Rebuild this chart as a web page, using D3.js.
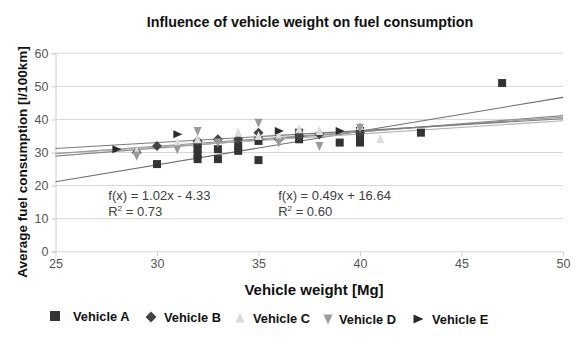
<!DOCTYPE html>
<html><head><meta charset="utf-8">
<script src="https://cdn.jsdelivr.net/npm/d3@7"></script>
<style>body{margin:0;background:#fff}svg{display:block}text{font-family:"Liberation Sans",Arial,sans-serif}</style>
</head><body>
<svg id="c" width="587" height="353"></svg>
<script>
const title = "Influence of vehicle weight on fuel consumption";
const xLabel = "Vehicle weight [Mg]";
const yLabel = "Average fuel consumption [l/100km]";
const xTicks = [25, 30, 35, 40, 45, 50];
const yTicks = [0, 10, 20, 30, 40, 50, 60];
const seriesNames = ["Vehicle A", "Vehicle B", "Vehicle C", "Vehicle D", "Vehicle E"];
const vehicleA = [[30,26.5],[32,28],[32,29.5],[32,31],[32,32.5],[33,28],[33,31],[34,30.5],[34,32],[35,27.7],[35,33.5],[37,34],[37,36],[39,33],[40,33],[40,35],[40,36.5],[43,36],[47,51]];
const vehicleB = [[29,30],[30,32],[32,33.5],[33,34],[34,34],[35,36],[36,34],[37,35],[38,35.5],[40,36]];
const vehicleC = [[29,30.5],[31,33],[32,34],[34,36],[35,35],[36,35],[37,37],[38,36.5],[40,38],[41,34]];
const vehicleD = [[29,29],[31,31],[32,36.5],[33,33],[35,39],[36,33],[38,32],[40,37.5]];
const vehicleE = [[28,31],[31,35.5],[36,36.5],[39,36.5]];
// trendlines: [slope, intercept]
const trendSlopes = [1.02, 0.49, 0.40, 0.44, 0.36];
const trendIntercepts = [-4.33, 16.64, 19.6, 18.7, 22.2];
const eqTexts = [["f(x) = 1.02x - 4.33", "0.73", 27.6], ["f(x) = 0.49x + 16.64", "0.60", 35.97]];

const seriesData = [vehicleA, vehicleB, vehicleC, vehicleD, vehicleE];
const colors = ["#333333", "#444444", "#dcdcdc", "#9a9a9a", "#2a2a2a"];
const trendColors = ["#6e6e6e", "#8a8a8a", "#b0b0b0", "#999999", "#7a7a7a"];
const shapes = ["square", "diamond", "up", "down", "right"];

const svg = d3.select("#c");
const x = d3.scaleLinear().domain([25, 50]).range([55.5, 563]);
const y = d3.scaleLinear().domain([0, 60]).range([251.7, 53.3]);

svg.append("g").selectAll("line").data(yTicks).join("line")
  .attr("x1", x(25)).attr("x2", x(50))
  .attr("y1", d => y(d)).attr("y2", d => y(d))
  .attr("stroke", "#d6d6d6").attr("stroke-width", 1);

const yAxis = svg.append("g").attr("transform", `translate(${x(25)},0)`)
  .call(d3.axisLeft(y).tickValues(yTicks).tickSize(4).tickPadding(3));
const xAxis = svg.append("g").attr("transform", `translate(0,${y(0)})`)
  .call(d3.axisBottom(x).tickValues(xTicks).tickSize(4).tickPadding(3));
[xAxis, yAxis].forEach(a => {
  a.select(".domain").attr("stroke", "#cccccc");
  a.selectAll(".tick line").attr("stroke", "#cccccc");
  a.selectAll("text").attr("fill", "#555").attr("font-size", 12.5)
    .attr("font-family", "'Liberation Sans', Arial, sans-serif");
});
xAxis.select(".domain").remove();

svg.append("g").selectAll("line").data(trendSlopes).join("line")
  .attr("x1", x(25)).attr("x2", x(50))
  .attr("y1", (d, i) => y(d * 25 + trendIntercepts[i]))
  .attr("y2", (d, i) => y(d * 50 + trendIntercepts[i]))
  .attr("stroke", (d, i) => trendColors[i]).attr("stroke-width", 1.1);

function shapePath(s, r) {
  switch (s) {
    case "square": return `M${-r},${-r}h${2*r}v${2*r}h${-2*r}Z`;
    case "diamond": return `M0,${-r-1}L${r+1},0L0,${r+1}L${-r-1},0Z`;
    case "up": return `M0,${-r-1}L${r},${r}L${-r},${r}Z`;
    case "down": return `M${-r},${-r}L${r},${-r}L0,${r+1}Z`;
    case "right": return `M${-r},${-r}L${r+1},0L${-r},${r}Z`;
  }
}

seriesData.forEach((data, i) => {
  svg.append("g").selectAll("path").data(data).join("path")
    .attr("transform", d => `translate(${x(d[0])},${y(d[1])})`)
    .attr("d", shapePath(shapes[i], 4))
    .attr("fill", colors[i]);
});

eqTexts.forEach(e => {
  svg.append("text").attr("x", x(e[2])).attr("y", 200)
    .attr("font-size", 13).attr("fill", "#404040").text(e[0]);
  const t2 = svg.append("text").attr("x", x(e[2])).attr("y", 216)
    .attr("font-size", 13).attr("fill", "#404040");
  t2.append("tspan").text("R");
  t2.append("tspan").attr("font-size", 8).attr("dy", -5).text("2");
  t2.append("tspan").attr("dy", 5).text(" = " + e[1]);
});

svg.append("text").attr("x", 310).attr("y", 27).attr("text-anchor", "middle")
  .attr("font-size", 14.3).attr("font-weight", "bold").attr("fill", "#111").text(title);
svg.append("text").attr("x", 314).attr("y", 295).attr("text-anchor", "middle")
  .attr("font-size", 15).attr("font-weight", "bold").attr("fill", "#111").text(xLabel);
svg.append("text").attr("transform", "translate(27,162) rotate(-90)").attr("text-anchor", "middle")
  .attr("font-size", 13.5).attr("font-weight", "bold").attr("fill", "#111").text(yLabel);

const legX = [55, 151, 240, 328, 418];
const legTX = [73, 164, 253, 339, 432];
const legY = [316, 317, 318, 319, 319];
seriesNames.forEach((n, i) => {
  svg.append("path").attr("transform", `translate(${legX[i]},${legY[i]})`)
    .attr("d", shapePath(shapes[i], i === 0 ? 5 : 4.5)).attr("fill", colors[i]);
  svg.append("text").attr("x", legTX[i]).attr("y", legY[i] + 5)
    .attr("font-size", 12.8).attr("font-weight", "bold").attr("fill", "#111").text(n);
});
</script>
</body></html>
